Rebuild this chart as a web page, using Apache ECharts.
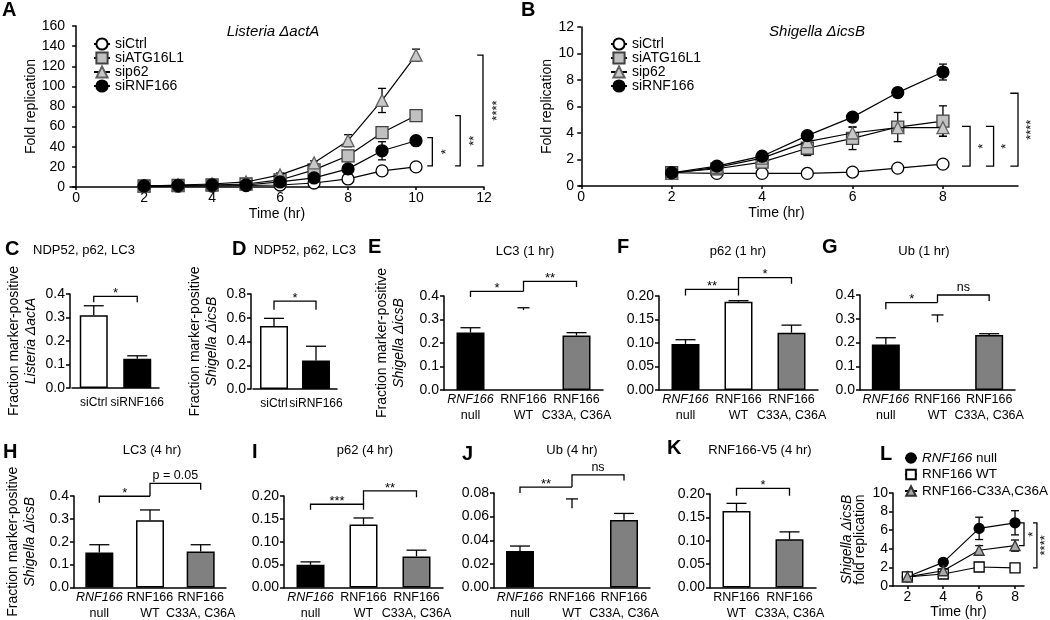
<!DOCTYPE html>
<html><head><meta charset="utf-8">
<script src="https://cdn.jsdelivr.net/npm/echarts@6/dist/echarts.min.js"></script>
<style>html,body{margin:0;padding:0;background:#fff}#c{width:1050px;height:620px}</style>
</head><body><div id="c"></div>
<script>
const FONT = '"Liberation Sans", Arial, Helvetica, sans-serif';

// ---------- Panel A : Listeria ΔactA ----------
const aTime = [2, 3, 4, 5, 6, 7, 8, 9, 10];
const aCtrl = [0.5, 0.8, 1, 1.5, 2, 4, 8, 16, 20];
const aCtrlErr = [0.3, 0.3, 0.3, 0.5, 0.5, 1, 1.5, 3, 2];
const aAtg = [1, 1.5, 2, 3, 7, 17, 31, 54, 71];
const aAtgErr = [0.3, 0.3, 0.5, 0.5, 1, 2, 2, 3, 3];
const aP62 = [1, 2, 3, 5, 12, 24, 46, 86, 131];
const aP62Err = [0.3, 0.5, 0.5, 1, 2, 2, 6, 12, 6];
const aRnf = [1, 1.5, 2, 2, 5, 9, 18, 36, 46];
const aRnfErr = [0.3, 0.3, 0.5, 0.5, 1, 1.5, 2, 9, 2];
const aTicks = [0, 2, 4, 6, 8, 10, 12];
const aBrk = [[10.48, 10.33, 21, 49], [11.3, 11.15, 21, 71], [11.97, 11.8, 21, 131]];
const aBrkLbl = ['*', '**', '****'];

// ---------- Panel B : Shigella ΔicsB ----------
const bTime = [2, 3, 4, 5, 6, 7, 8];
const bCtrl = [1.0, 0.95, 0.95, 0.95, 1.05, 1.35, 1.65];
const bCtrlErr = [0.05, 0.05, 0.05, 0.05, 0.1, 0.1, 0.15];
const bAtg = [1.0, 1.3, 1.8, 2.85, 3.6, 4.45, 4.9];
const bAtgErr = [0.05, 0.1, 0.2, 0.55, 0.85, 1.1, 1.15];
const bP62 = [0.95, 1.4, 2.1, 3.35, 4.0, 4.4, 4.4];
const bP62Err = [0.05, 0.1, 0.15, 0.3, 0.45, 0.3, 0.65];
const bRnf = [1.0, 1.5, 2.25, 3.8, 5.2, 7.05, 8.6];
const bRnfErr = [0.05, 0.1, 0.15, 0.15, 0.2, 0.35, 0.6];
const bTicks = [0, 2, 4, 6, 8];
const bBrk = [[8.6, 8.42, 1.5, 4.5], [9.12, 8.95, 1.5, 4.5], [9.66, 9.49, 1.5, 7.0]];
const bBrkLbl = ['*', '*', '****'];

// ---------- Bar panels ----------
const siCats = ['siCtrl', 'siRNF166'];
const rnfCats = ['null', 'WT', 'C33A, C36A'];
const rnfCats2 = ['WT', 'C33A, C36A'];

const cVals = [0.31, 0.125];  const cErr = [0.04, 0.012];
const cBrk = [[0, 1, 0.39, 0.365, 0.365]]; const cBrkLbl = ['*'];

const dVals = [0.53, 0.24];   const dErr = [0.065, 0.12];
const dBrk = [[0, 1, 0.74, 0.667, 0.667]]; const dBrkLbl = ['*'];

const eVals = [0.245, 0.34, 0.232]; const eErr = [0.02, 0.01, 0.012];
const eBrk = [[0, 1, 0.42, 0.396, 0.42], [1, 2, 0.462, 0.42, 0.438]]; const eBrkLbl = ['*', '**'];

const fVals = [0.098, 0.188, 0.122]; const fErr = [0.009, 0.002, 0.016];
const fBrk = [[0, 1, 0.214, 0.201, 0.201], [1, 2, 0.239, 0.214, 0.226]]; const fBrkLbl = ['**', '*'];

const gVals = [0.192, 0.285, 0.232]; const gErr = [0.028, 0.031, 0.005];
const gBrk = [[0, 1, 0.368, 0.34, 0.368], [1, 2, 0.4, 0.368, 0.375]]; const gBrkLbl = ['*', 'ns'];

const hVals = [0.153, 0.294, 0.157]; const hErr = [0.034, 0.045, 0.03];
const hBrk = [[0, 1, 0.399, 0.37, 0.399], [1, 2, 0.455, 0.399, 0.427]]; const hBrkLbl = ['*', 'p = 0.05'];

const iVals = [0.0496, 0.1376, 0.068]; const iErr = [0.0064, 0.0144, 0.0136];
const iBrk = [[0, 1, 0.182, 0.17, 0.17], [1, 2, 0.211, 0.182, 0.197]]; const iBrkLbl = ['***', '**'];

const jVals = [0.0309, 0.067, 0.0571]; const jErr = [0.0042, 0.008, 0.0056];
const jBrk = [[0, 1, 0.085, 0.08, 0.085], [1, 2, 0.0953, 0.085, 0.0906]]; const jBrkLbl = ['**', 'ns'];

const kVals = [0.1635, 0.103]; const kErr = [0.0165, 0.016];
const kBrk = [[0, 1, 0.212, 0.196, 0.196]]; const kBrkLbl = ['*'];

// ---------- Panel L ----------
const lTime = [2, 4, 6, 8];
const lNull = [1.0, 2.55, 6.2, 6.8];   const lNullErr = [0.05, 0.15, 1.2, 1.3];
const lWT = [1.0, 1.3, 2.05, 1.95];    const lWTErr = [0.05, 0.15, 0.2, 0.15];
const lMut = [1.0, 1.65, 3.85, 4.35];  const lMutErr = [0.05, 0.15, 0.5, 0.6];
const lTicks = [2, 4, 6, 8];
const lBrk = [[8.5, 8.22, 4.35, 6.8], [9.22, 9.0, 1.95, 6.8]];
const lBrkLbl = ['*', '****'];

// ================= builders =================
const grids = [], xAxes = [], yAxes = [], series = [], titles = [], legends = [];
const AX = { color: '#000', width: 1.5 };
const CAT_FS = 12.5;

const yRich = {
  a: { fontSize: 14, fontFamily: FONT, color: '#000', lineHeight: 17 },
  b: { fontSize: 14, fontFamily: FONT, color: '#000', lineHeight: 17, fontStyle: 'italic' }
};
function catRichOf(fs) {
  return {
    i: { fontSize: fs, fontFamily: FONT, color: '#000', lineHeight: 16, fontStyle: 'italic' },
    n: { fontSize: fs, fontFamily: FONT, color: '#000', lineHeight: 16 }
  };
}

function errBars(caps, both) {
  return function (params, api) {
    const x = api.value(0), y = api.value(1), e = api.value(2);
    const cap = Array.isArray(caps) ? caps[params.dataIndex] : caps;
    const hi = api.coord([x, y + e]);
    const lo = api.coord([x, both ? y - e : y]);
    const st = { stroke: '#000', lineWidth: 1.3, fill: null };
    const ch = [
      { type: 'line', shape: { x1: hi[0], y1: hi[1], x2: lo[0], y2: lo[1] }, style: st },
      { type: 'line', shape: { x1: hi[0] - cap, y1: hi[1], x2: hi[0] + cap, y2: hi[1] }, style: st }
    ];
    if (both) ch.push({ type: 'line', shape: { x1: lo[0] - cap, y1: lo[1], x2: lo[0] + cap, y2: lo[1] }, style: st });
    return { type: 'group', children: ch };
  };
}

function hBrackets(gi, items, lbls) {
  series.push({
    type: 'custom', xAxisIndex: gi, yAxisIndex: gi, silent: true, clip: false, z: 6,
    data: items, encode: { x: [0, 1], y: [2] },
    renderItem: function (params, api) {
      const a = api.value(0), b = api.value(1), y = api.value(2), ya = api.value(3), yb = api.value(4);
      const L = api.coord([a, y]), R = api.coord([b, y]);
      const L2 = api.coord([a, ya]), R2 = api.coord([b, yb]);
      const t = lbls[params.dataIndex];
      const star = /^\*+$/.test(t);
      return { type: 'group', children: [
        { type: 'polyline', shape: { points: [L2, L, R, R2] }, style: { stroke: '#000', lineWidth: 1.3, fill: null } },
        { type: 'text', x: (L[0] + R[0]) / 2, y: star ? L[1] - 3 : L[1] - 1,
          style: { text: t, fill: '#000', fontSize: star ? 13 : 12.5, fontFamily: FONT,
                   align: 'center', verticalAlign: star ? 'middle' : 'bottom',
                   textAlign: 'center', textVerticalAlign: star ? 'middle' : 'bottom' } }
      ] };
    }
  });
}

function vBrackets(gi, items, lbls, off) {
  series.push({
    type: 'custom', xAxisIndex: gi, yAxisIndex: gi, silent: true, clip: false, z: 6,
    data: items, encode: { x: [0, 1], y: [2, 3] },
    renderItem: function (params, api) {
      const x = api.value(0), xt = api.value(1), y1 = api.value(2), y2 = api.value(3);
      const p1 = api.coord([xt, y1]), p2 = api.coord([x, y1]), p3 = api.coord([x, y2]), p4 = api.coord([xt, y2]);
      return { type: 'group', children: [
        { type: 'polyline', shape: { points: [p1, p2, p3, p4] }, style: { stroke: '#000', lineWidth: 1.3, fill: null } },
        { type: 'text', x: p2[0] + off, y: (p2[1] + p3[1]) / 2, rotation: Math.PI / 2,
          style: { text: lbls[params.dataIndex], fill: '#000', fontSize: 13, fontFamily: FONT,
                   align: 'center', verticalAlign: 'middle', textAlign: 'center', textVerticalAlign: 'middle' } }
      ] };
    }
  });
}

function linePanel(p) {
  const gi = grids.length;
  grids.push({ left: p.rect[0], top: p.rect[1], width: p.rect[2], height: p.rect[3] });
  xAxes.push({
    type: 'value', gridIndex: gi, min: p.xMin, max: p.xMax,
    axisLine: { show: true, onZero: false, lineStyle: AX },
    axisTick: { show: true, length: 3, customValues: p.ticks, lineStyle: AX },
    axisLabel: { customValues: p.ticks, color: '#000', fontSize: 14, fontFamily: FONT, margin: 4 },
    splitLine: { show: false },
    name: 'Time (hr)', nameLocation: 'middle', nameGap: p.xNameGap,
    nameTextStyle: { color: '#000', fontSize: 14, fontFamily: FONT, padding: p.xNamePad || 0 }
  });
  yAxes.push({
    type: 'value', gridIndex: gi, min: 0, max: p.yMax, interval: p.yStep,
    axisLine: { show: true, lineStyle: AX },
    axisTick: { show: true, length: 4, lineStyle: AX },
    axisLabel: { color: '#000', fontSize: 14, fontFamily: FONT, margin: 5 },
    splitLine: { show: false },
    name: p.yName, nameLocation: 'middle', nameRotate: 90, nameGap: p.yNameGap,
    nameTextStyle: { rich: p.yRich || yRich, color: '#000', fontSize: 14, fontFamily: FONT }
  });
  p.series.forEach(function (s, k) {
    series.push({
      type: 'custom', xAxisIndex: gi, yAxisIndex: gi, silent: true, z: 1,
      data: p.x.map((x, i) => [x, s.v[i], s.e[i]]), encode: { x: 0, y: 1 },
      renderItem: errBars(p.cap, true)
    });
    series.push({
      type: 'line', name: s.name, xAxisIndex: gi, yAxisIndex: gi, z: 2 + k,
      data: p.x.map((x, i) => [x, s.v[i]]),
      symbol: s.sym, symbolSize: p.symSize, showSymbol: true,
      itemStyle: { color: s.fill, borderColor: s.border, borderWidth: 1.3 },
      lineStyle: { color: '#000', width: 1.2 },
      emphasis: { disabled: true }
    });
  });
  vBrackets(gi, p.brk, p.brkLbl, p.brkOff);
}

function barPanel(p) {
  const gi = grids.length;
  const fs = p.catFs || CAT_FS;
  grids.push({ left: p.rect[0], top: p.rect[1], width: p.rect[2], height: p.rect[3] });
  xAxes.push({
    type: 'category', gridIndex: gi, data: p.cats,
    axisLine: { show: true, onZero: false, lineStyle: AX },
    axisTick: { show: false },
    axisLabel: { interval: 0, margin: p.lblMargin, color: '#000', fontSize: fs, fontFamily: FONT,
                 formatter: p.fmt, rich: catRichOf(fs) }
  });
  yAxes.push({
    type: 'value', gridIndex: gi, min: 0, max: p.yMax, interval: p.yStep, offset: p.yOff || 0,
    axisLine: { show: true, lineStyle: AX },
    axisTick: { show: true, length: 4, lineStyle: AX },
    axisLabel: { color: '#000', fontSize: 14, fontFamily: FONT, margin: 5, formatter: v => v.toFixed(p.dec) },
    splitLine: { show: false },
    name: p.yName || '', nameLocation: 'middle', nameRotate: 90, nameGap: p.yNameGap || 30,
    nameTextStyle: { rich: yRich }
  });
  series.push({
    type: 'bar', xAxisIndex: gi, yAxisIndex: gi, barWidth: 28, silent: true, z: 2,
    data: p.vals.map((v, i) => ({
      value: v,
      itemStyle: p.fills[i] ? { color: p.fills[i], borderColor: '#000', borderWidth: 1.5 }
                            : { color: 'rgba(0,0,0,0)', borderColor: 'rgba(0,0,0,0)', borderWidth: 0 }
    }))
  });
  series.push({
    type: 'custom', xAxisIndex: gi, yAxisIndex: gi, silent: true, clip: false, z: 3,
    data: p.vals.map((v, i) => [i, v, p.errs[i]]), encode: { x: 0, y: 1 },
    renderItem: errBars(p.fills.map(f => f ? 10 : 6), false)
  });
  hBrackets(gi, p.brk, p.brkLbl);
}

const rnfFmt = v => v === 'null' ? '{i|RNF166}\n{n|null}' : '{n|RNF166}\n{n|' + v + '}';
const siFmt = v => '{n|' + v + '}';
const shigName = '{a|Fraction marker-positive}\n{b|Shigella ΔicsB}';
const BLACK = '#000', WHITE = '#fff', GRAY = '#808080';

// ---- A ----
linePanel({
  rect: [70, 26, 414, 161], xMin: -0.18, xMax: 12, ticks: aTicks, yMax: 160, yStep: 20,
  x: aTime, cap: 4, symSize: 12, xNameGap: 20,
  yName: 'Fold replication', yNameGap: 29,
  yRich: { a: yRich.a },
  series: [
    { name: 'siCtrl', v: aCtrl, e: aCtrlErr, sym: 'circle', fill: '#fff', border: '#000' },
    { name: 'siATG16L1', v: aAtg, e: aAtgErr, sym: 'rect', fill: '#c0c0c0', border: '#404040' },
    { name: 'sip62', v: aP62, e: aP62Err, sym: 'triangle', fill: '#c8c8c8', border: '#606060' },
    { name: 'siRNF166', v: aRnf, e: aRnfErr, sym: 'circle', fill: '#000', border: '#000' }
  ],
  brk: aBrk, brkLbl: aBrkLbl, brkOff: 14
});
// ---- B ----
linePanel({
  rect: [579, 27, 439, 159], xMin: -0.05, xMax: 9.66, ticks: bTicks, yMax: 12, yStep: 2,
  x: bTime, cap: 4, symSize: 12, xNameGap: 20, xNamePad: [0, 44, 0, 0],
  yName: 'Fold replication', yNameGap: 23,
  series: [
    { name: 'siCtrl', v: bCtrl, e: bCtrlErr, sym: 'circle', fill: '#fff', border: '#000' },
    { name: 'siATG16L1', v: bAtg, e: bAtgErr, sym: 'rect', fill: '#c0c0c0', border: '#404040' },
    { name: 'sip62', v: bP62, e: bP62Err, sym: 'triangle', fill: '#c8c8c8', border: '#606060' },
    { name: 'siRNF166', v: bRnf, e: bRnfErr, sym: 'circle', fill: '#000', border: '#000' }
  ],
  brk: bBrk, brkLbl: bBrkLbl, brkOff: 13
});
// ---- C ----
barPanel({ rect: [72, 294, 87, 94], cats: siCats, fmt: siFmt, catFs: 12, lblMargin: 7, yMax: 0.4, yStep: 0.1, dec: 1, yOff: 2,
  yName: '{a|Fraction marker-positive}\n{b|Listeria ΔactA}', yNameGap: 30,
  vals: cVals, errs: cErr, fills: [WHITE, BLACK], brk: cBrk, brkLbl: cBrkLbl });
// ---- D ----
barPanel({ rect: [253, 294, 84, 95], cats: siCats, fmt: siFmt, catFs: 12, lblMargin: 7, yMax: 0.8, yStep: 0.2, dec: 1, yOff: 2,
  yName: shigName, yNameGap: 30,
  vals: dVals, errs: dErr, fills: [WHITE, BLACK], brk: dBrk, brkLbl: dBrkLbl });
// ---- E ----
barPanel({ rect: [444, 296, 159, 94], cats: rnfCats, fmt: rnfFmt, lblMargin: 2, yMax: 0.4, yStep: 0.1, dec: 1,
  yName: shigName, yNameGap: 36,
  vals: eVals, errs: eErr, fills: [BLACK, null, GRAY], brk: eBrk, brkLbl: eBrkLbl });
// ---- F ----
barPanel({ rect: [659, 296, 159, 94], cats: rnfCats, fmt: rnfFmt, lblMargin: 2, yMax: 0.2, yStep: 0.05, dec: 2,
  vals: fVals, errs: fErr, fills: [BLACK, WHITE, GRAY], brk: fBrk, brkLbl: fBrkLbl });
// ---- G ----
barPanel({ rect: [860, 295, 155, 95], cats: rnfCats, fmt: rnfFmt, lblMargin: 2, yMax: 0.4, yStep: 0.1, dec: 1,
  vals: gVals, errs: gErr, fills: [BLACK, null, GRAY], brk: gBrk, brkLbl: gBrkLbl });
// ---- H ----
barPanel({ rect: [74, 496, 152, 94], cats: rnfCats, fmt: rnfFmt, lblMargin: 2, yMax: 0.4, yStep: 0.1, dec: 1,
  yName: shigName, yNameGap: 35,
  vals: hVals, errs: hErr, fills: [BLACK, WHITE, GRAY], brk: hBrk, brkLbl: hBrkLbl });
// ---- I ----
barPanel({ rect: [284, 496, 159, 94], cats: rnfCats, fmt: rnfFmt, lblMargin: 2, yMax: 0.2, yStep: 0.05, dec: 2,
  vals: iVals, errs: iErr, fills: [BLACK, WHITE, GRAY], brk: iBrk, brkLbl: iBrkLbl });
// ---- J ----
barPanel({ rect: [494, 493, 156, 96], cats: rnfCats, fmt: rnfFmt, lblMargin: 2, yMax: 0.08, yStep: 0.02, dec: 2,
  vals: jVals, errs: jErr, fills: [BLACK, null, GRAY], brk: jBrk, brkLbl: jBrkLbl });
// ---- K ----
barPanel({ rect: [710, 494, 106, 95], cats: rnfCats2, fmt: rnfFmt, lblMargin: 2, yMax: 0.2, yStep: 0.05, dec: 2,
  vals: kVals, errs: kErr, fills: [WHITE, GRAY], brk: kBrk, brkLbl: kBrkLbl });
// ---- L ----
linePanel({
  rect: [893, 493, 131, 96], xMin: 1.2, xMax: 8.5, ticks: lTicks, yMax: 10, yStep: 2,
  x: lTime, cap: 4, symSize: 10, xNameGap: 14,
  yName: '{b|Shigella ΔicsB}\n{a|fold replication}', yNameGap: 26,
  yRich: { a: Object.assign({}, yRich.a, { lineHeight: 13 }), b: Object.assign({}, yRich.b, { lineHeight: 13 }) },
  series: [
    { name: 'RNF166 null', v: lNull, e: lNullErr, sym: 'circle', fill: '#000', border: '#000' },
    { name: 'RNF166 WT', v: lWT, e: lWTErr, sym: 'rect', fill: '#fff', border: '#000' },
    { name: 'RNF166-C33A,C36A', v: lMut, e: lMutErr, sym: 'triangle', fill: '#a8a8a8', border: '#333' }
  ],
  brk: lBrk, brkLbl: lBrkLbl, brkOff: 9
});

// ---- legends ----
const legText = { fontSize: 14, fontFamily: FONT, color: '#000', lineHeight: 14 };
legends.push({ orient: 'vertical', left: 88, top: 32, itemWidth: 16, itemHeight: 14, itemGap: 0, selectedMode: false,
  data: ['siCtrl', 'siATG16L1', 'sip62', 'siRNF166'], textStyle: legText });
legends.push({ orient: 'vertical', left: 605, top: 32, itemWidth: 16, itemHeight: 14, itemGap: 0, selectedMode: false,
  data: ['siCtrl', 'siATG16L1', 'sip62', 'siRNF166'], textStyle: legText });
legends.push({ orient: 'vertical', left: 899, top: 446, itemWidth: 12, itemHeight: 12, itemGap: 2.5, selectedMode: false,
  data: ['RNF166 null', 'RNF166 WT', 'RNF166-C33A,C36A'],
  formatter: n => n === 'RNF166 null' ? '{i|RNF166} null' : n,
  textStyle: { fontSize: 13.5, fontFamily: FONT, color: '#000', lineHeight: 12,
               rich: { i: { fontStyle: 'italic', fontSize: 13.5, fontFamily: FONT, color: '#000', lineHeight: 12 } } } });

// ---- titles ----
const letterStyle = { fontSize: 20, fontWeight: 'bold', fontFamily: FONT, color: '#000' };
[['A', 2, 0], ['B', 521, 0], ['C', 5, 239], ['D', 232, 239], ['E', 368, 237], ['F', 617, 237], ['G', 822, 237],
 ['H', 3, 442], ['I', 252, 442], ['J', 462, 444], ['K', 667, 438], ['L', 880, 444]].forEach(function (t) {
  titles.push({ text: t[0], left: t[1], top: t[2], padding: 0, textStyle: letterStyle });
});
const ttl = { fontSize: 13, fontWeight: 'normal', fontFamily: FONT, color: '#000' };
const ttlIt = { fontSize: 15, fontWeight: 'normal', fontFamily: FONT, color: '#000', fontStyle: 'italic' };
[['Listeria ΔactA', 273, 24, ttlIt], ['Shigella ΔicsB', 817, 24, ttlIt],
 ['NDP52, p62, LC3', 84, 244, ttl], ['NDP52, p62, LC3', 305, 244, ttl],
 ['LC3 (1 hr)', 525, 245, ttl], ['p62 (1 hr)', 738, 245, ttl], ['Ub (1 hr)', 924, 245, ttl],
 ['LC3 (4 hr)', 152, 444, ttl], ['p62 (4 hr)', 365, 444, ttl], ['Ub (4 hr)', 572, 444, ttl],
 ['RNF166-V5 (4 hr)', 760, 444, ttl]].forEach(function (t) {
  titles.push({ text: t[0], left: t[1], top: t[2], padding: 0, textAlign: 'center', textStyle: t[3] });
});

const chart = echarts.init(document.getElementById('c'), null, { renderer: 'canvas' });
chart.setOption({
  animation: false,
  backgroundColor: '#fff',
  textStyle: { fontFamily: FONT },
  title: titles, legend: legends, grid: grids, xAxis: xAxes, yAxis: yAxes, series: series
});
</script></body></html>
